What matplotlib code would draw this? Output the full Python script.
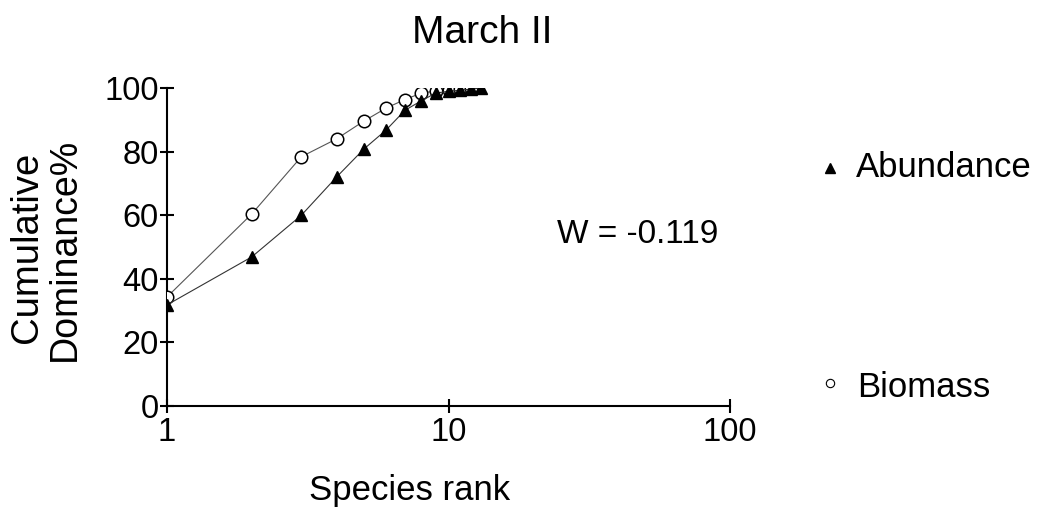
import matplotlib
matplotlib.use("Agg")
import matplotlib.pyplot as plt
from matplotlib.lines import Line2D

plt.rcParams['font.family'] = ['Liberation Sans', 'DejaVu Sans']

title = "March II"
xlabel = "Species rank"
ylabel_lines = ["Cumulative", "Dominance%"]
w_text = "W = -0.119"

abund_rank = [1, 2, 3, 4, 5, 6, 7, 8, 9, 10, 11, 12, 13]
abund_vals = [31.8, 46.9, 60.0, 72.0, 80.8, 86.8, 93.0, 96.0, 98.4, 99.0, 99.3, 99.7, 100.0]
bio_rank = [1, 2, 3, 4, 5, 6, 7, 8, 9, 10, 11, 12]
bio_vals = [34.3, 60.4, 78.4, 84.0, 89.6, 93.7, 96.4, 98.4, 99.1, 99.5, 99.8, 100.0]

yticks = [0, 20, 40, 60, 80, 100]
xticks = [1, 10, 100]
xticklabels = ["1", "10", "100"]

fig = plt.figure(figsize=(10.4, 5.12), dpi=100)
ax = fig.add_axes([0.1606, 0.207, 0.5414, 0.621])

ax.plot(bio_rank, bio_vals, color='#555555', lw=0.8, marker='o', ms=9,
        mfc='white', mec='black', mew=1.1, zorder=2)
ax.plot(abund_rank, abund_vals, color='#333333', lw=0.8, marker='^', ms=8.5,
        mfc='black', mec='black', zorder=3)

ax.set_xscale('log')
ax.set_xlim(1, 100)
ax.set_ylim(0, 100)
ax.set_xticks(xticks)
ax.set_xticklabels(xticklabels)
ax.xaxis.set_minor_locator(matplotlib.ticker.NullLocator())
ax.set_yticks(yticks)
for s in ['top', 'right']:
    ax.spines[s].set_visible(False)
for s in ['left', 'bottom']:
    ax.spines[s].set_linewidth(1.5)
    ax.spines[s].set_zorder(1)
ax.tick_params(axis='both', direction='inout', length=10, width=1.5,
               labelsize=23.5, pad=1)
ax.tick_params(axis='x', pad=3)

fig.text(0.464, 0.916, title, ha='center', va='baseline', fontsize=28)
fig.text(0.394, 0.0234, xlabel, ha='center', va='baseline', fontsize=25)
fig.text(0.0356, 0.517, ylabel_lines[0], ha='center', va='baseline',
         rotation=90, rotation_mode='anchor', fontsize=27.5)
fig.text(0.072, 0.512, ylabel_lines[1], ha='center', va='baseline',
         rotation=90, rotation_mode='anchor', fontsize=27)
fig.text(0.536, 0.525, w_text, ha='left', va='baseline', fontsize=24)

# legend entries
fig.add_artist(Line2D([0.798], [0.672], marker='^', ms=7, color='black',
                      mfc='black', ls='none', transform=fig.transFigure))
fig.text(0.823, 0.654, "Abundance", ha='left', va='baseline', fontsize=25)
fig.add_artist(Line2D([0.798], [0.252], marker='o', ms=6, color='black',
                      mfc='white', mew=0.8, ls='none', transform=fig.transFigure))
fig.text(0.824, 0.225, "Biomass", ha='left', va='baseline', fontsize=25)

fig.savefig("out.png", dpi=100)
